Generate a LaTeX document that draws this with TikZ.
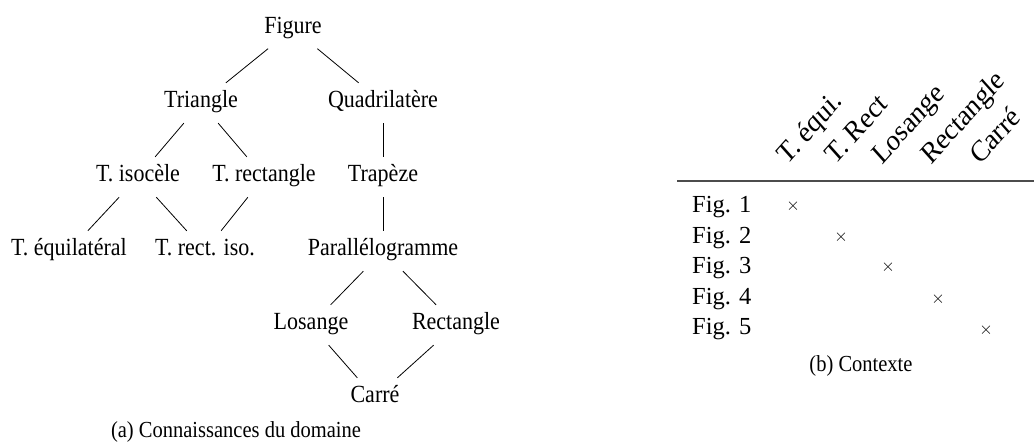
\documentclass[tikz,border=0pt]{standalone}
\usepackage{fontspec}
\usepackage{graphicx}
\setmainfont{Liberation Serif}
\newcommand\vs[1]{\scalebox{1}[1.12]{#1}}
\begin{document}
\begin{tikzpicture}[x=1pt,y=-1pt,
  tn/.style={anchor=base,inner xsep=2pt,inner ysep=9pt,text height=16pt,text depth=6pt,font=\fontsize{22}{26}\selectfont},
  hd/.style={anchor=base west,rotate=45,transform shape,inner sep=0pt,font=\fontsize{26.5}{30}\selectfont},
  rl/.style={anchor=base west,inner sep=0pt,font=\fontsize{24.5}{28}\selectfont},
  cx/.style={inner sep=0pt,font=\fontsize{19}{20}\selectfont},
  captext/.style={anchor=base,inner sep=0pt,font=\fontsize{20.5}{24}\selectfont},
  ed/.style={line width=0.8pt}]
\useasboundingbox (0,0) rectangle (1034,443);
% tree
\node[tn] (fig) at (293,33.5) {\vs{Figure}};
\node[tn] (tri) at (201,108) {\vs{Triangle}};
\node[tn] (quad) at (383,108) {\vs{Quadrilatère}};
\node[tn] (iso) at (138,182) {\vs{T. isocèle}};
\node[tn] (trect) at (264,182) {\vs{T. rectangle}};
\node[tn] (trap) at (383,182) {\vs{Trapèze}};
\node[tn] (equi) at (69,256) {\vs{T. équilatéral}};
\node[tn] (rectiso) at (205,256) {\vs{T. rect. iso.}};
\node[tn] (para) at (383,256) {\vs{Parallélogramme}};
\node[tn] (los) at (311,330) {\vs{Losange}};
\node[tn] (rect) at (456,330) {\vs{Rectangle}};
\node[tn] (carre) at (375,403) {\vs{Carré}};
\draw[ed] (fig) -- (tri);
\draw[ed] (fig) -- (quad);
\draw[ed] (tri) -- (iso);
\draw[ed] (tri) -- (trect);
\draw[ed] (quad) -- (trap);
\draw[ed] (iso) -- (equi);
\draw[ed] (iso) -- (rectiso);
\draw[ed] (trect) -- (rectiso);
\draw[ed] (trap) -- (para);
\draw[ed] (para) -- (los);
\draw[ed] (para) -- (rect);
\draw[ed] (los) -- (carre);
\draw[ed] (rect) -- (carre);
\node[captext] (capa) at (236,438) {\vs{(a) Connaissances du domaine}};
% table header
\path[shift={(787,166)},yscale=1.12] node[hd] (h1) {T. équi.};
\path[shift={(835,166)},yscale=1.12] node[hd] (h2) {T. Rect};
\path[shift={(882,166)},yscale=1.12] node[hd] (h3) {Losange};
\path[shift={(931,166)},yscale=1.12] node[hd] (h4) {Rectangle};
\path[shift={(980,166)},yscale=1.12] node[hd] (h5) {Carré};
\coordinate (rl) at (677,181);
\coordinate (rr) at (1034,181);
\draw[line width=1.6pt,black!70] (rl) -- (rr);
\node[rl] (f1) at (692,213) {Fig. 1};
\node[rl] (f2) at (692,243.5) {Fig. 2};
\node[rl] (f3) at (692,274) {Fig. 3};
\node[rl] (f4) at (692,304.5) {Fig. 4};
\node[rl] (f5) at (692,335) {Fig. 5};
\node[cx] (x1) at (793,206) {$\times$};
\node[cx] (x2) at (841,237) {$\times$};
\node[cx] (x3) at (888,267) {$\times$};
\node[cx] (x4) at (938,299) {$\times$};
\node[cx] (x5) at (986,330) {$\times$};
\node[captext] (capb) at (861,372) {\vs{(b) Contexte}};
\end{tikzpicture}
\end{document}
